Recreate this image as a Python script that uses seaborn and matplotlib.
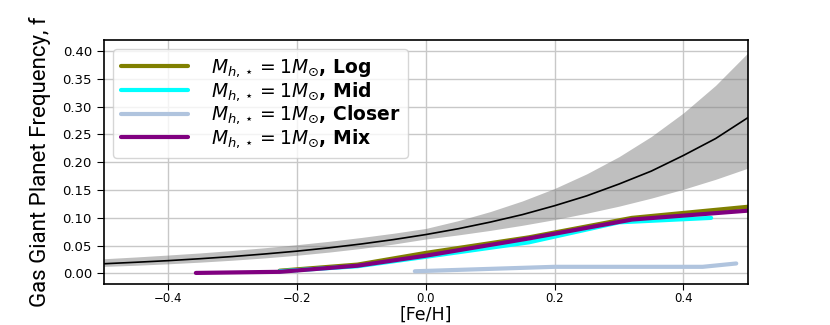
import matplotlib
matplotlib.use('Agg')
import matplotlib.pyplot as plt
import seaborn as sns
import pandas as pd
import numpy as np

# 拟合曲线及其不确定带
fit_feh = [-0.5, -0.45, -0.4, -0.35, -0.3, -0.25, -0.2, -0.15, -0.1, -0.05, 0.0,
           0.05, 0.1, 0.15, 0.2, 0.25, 0.3, 0.35, 0.4, 0.45, 0.5]
fit_f = [0.0175, 0.0202, 0.0231, 0.0266, 0.0305, 0.0351, 0.0402, 0.0462, 0.0531, 0.0610, 0.0700,
         0.0804, 0.0924, 0.1059, 0.1219, 0.1397, 0.1609, 0.1841, 0.2123, 0.2427, 0.2802]
fit_upper = [0.0265, 0.0297, 0.0332, 0.0370, 0.0414, 0.0463, 0.0518, 0.0579, 0.0648, 0.0724, 0.0810,
             0.0949, 0.1113, 0.1305, 0.1529, 0.1793, 0.2101, 0.2463, 0.2888, 0.3384, 0.3967]
fit_lower = [0.0127, 0.0148, 0.0174, 0.0204, 0.0239, 0.0280, 0.0328, 0.0385, 0.0451, 0.0529, 0.0620,
             0.0693, 0.0775, 0.0867, 0.0969, 0.1084, 0.1211, 0.1355, 0.1515, 0.1694, 0.1894]

# 各模型的频率曲线
log_feh = [-0.227, -0.106, 0.0, 0.16, 0.32, 0.5]
log_f = [0.005, 0.016, 0.037, 0.065, 0.100, 0.120]
mid_feh = [-0.227, -0.106, 0.0, 0.16, 0.30, 0.443]
mid_f = [0.004, 0.013, 0.030, 0.056, 0.092, 0.100]
closer_feh = [-0.017, 0.2, 0.43, 0.482]
closer_f = [0.004, 0.012, 0.012, 0.018]
mix_feh = [-0.357, -0.227, -0.106, 0.0, 0.16, 0.32, 0.5]
mix_f = [0.001, 0.003, 0.014, 0.032, 0.063, 0.097, 0.113]

labels = ['Log', 'Mid', 'Closer', 'Mix']
colors = ['olive', 'cyan', 'lightsteelblue', 'purple']

sns.set_style('ticks')
plt.rcParams['font.family'] = ['DejaVu Sans']
plt.rcParams['text.color'] = 'black'
plt.rcParams['axes.labelcolor'] = 'black'
plt.rcParams['xtick.color'] = 'black'
plt.rcParams['ytick.color'] = 'black'

# 组装长表
frames = []
for name, xs, ys in zip(labels,
                        [log_feh, mid_feh, closer_feh, mix_feh],
                        [log_f, mid_f, closer_f, mix_f]):
    frames.append(pd.DataFrame({'feh': xs, 'f': ys, 'model': name}))
df = pd.concat(frames, ignore_index=True)
fit_df = pd.DataFrame({'feh': fit_feh, 'f': fit_f, 'lo': fit_lower, 'hi': fit_upper})

fig = plt.figure(figsize=(8.3, 3.25), dpi=100)
ax = fig.add_axes([0.125, 0.126, 0.776, 0.751])

ax.fill_between(fit_df['feh'], fit_df['lo'], fit_df['hi'], color='grey', alpha=0.5, lw=0)
sns.lineplot(data=fit_df, x='feh', y='f', color='black', lw=1.2, ax=ax, legend=False)
sns.lineplot(data=df, x='feh', y='f', hue='model', hue_order=labels,
             palette=dict(zip(labels, colors)), lw=3, ax=ax, sort=False)

ax.set_xlim(-0.5, 0.5)
ax.set_ylim(-0.019, 0.42)
ax.set_xticks([-0.4, -0.2, 0.0, 0.2, 0.4])
ax.set_yticks(np.arange(0, 0.401, 0.05))
ax.yaxis.set_major_formatter(matplotlib.ticker.FormatStrFormatter('%.2f'))
ax.tick_params(labelsize=9.5, direction='out', length=5)
ax.tick_params(axis='x', labelsize=8.5, pad=2, length=4)
ax.grid(True, color='#c8c8c8', lw=1)
for s in ax.spines.values():
    s.set_color('black')
    s.set_linewidth(1.2)

ax.set_xlabel('[Fe/H]', fontsize=12.5, labelpad=0)
ax.set_ylabel('Gas Giant Planet Frequency, f', fontsize=16,
              family=['Roboto', 'DejaVu Sans'], labelpad=8)

handles, _ = ax.get_legend_handles_labels()
leg_labels = [r'$M_{h,\star} = 1M_{\odot}$, ' + n for n in labels]
ax.legend(handles, leg_labels, loc='upper left', prop={'weight': 'bold', 'size': 13.5},
          handlelength=3.6, handletextpad=1.2, labelspacing=0.05, borderpad=0.4, frameon=True)

plt.savefig('out.png', dpi=100)
plt.close()
